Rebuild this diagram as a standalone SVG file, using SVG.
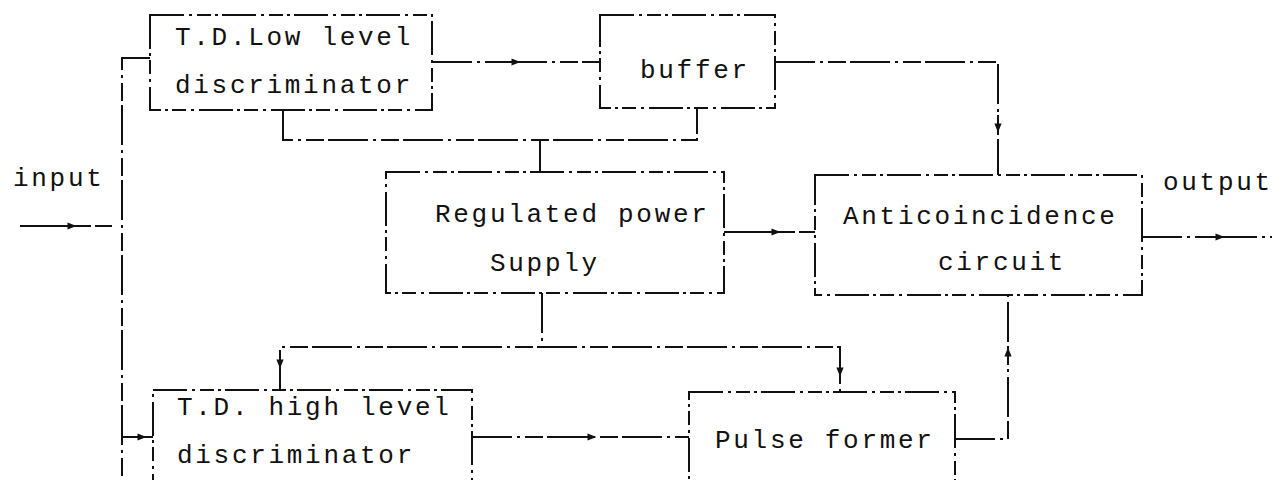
<svg xmlns="http://www.w3.org/2000/svg" width="1283" height="480" viewBox="0 0 1283 480">
<style>
.box{fill:none;stroke:#111;stroke-width:2;stroke-dasharray:34 5 3 5 14 4 3 4}
.ln{fill:none;stroke:#111;stroke-width:2;stroke-dasharray:40 5 3 5 18 4}
.ar{fill:none;stroke:#111;stroke-width:2}
.t{font-family:"Liberation Mono","DejaVu Sans Mono",monospace;font-size:26px;letter-spacing:2.7px;fill:#111}
</style>
<defs>
<marker id="ar" viewBox="0 0 10 10" refX="5" refY="5" markerWidth="11" markerHeight="9" orient="auto" markerUnits="userSpaceOnUse">
<path d="M0,1 L10,5 L0,9 z" fill="#111"/>
</marker>
</defs>
<rect width="1283" height="480" fill="#fff"/>
<g id="connectors">
<polyline class="ln" points="20,226 112,226"/>
<polyline class="ln" points="150,58 122,58 122,480"/>
<polyline class="ln" points="122,437 153,437"/>
<polyline class="ln" points="432,62 600,62"/>
<polyline class="ln" points="775,62 998,62 998,175"/>
<polyline class="ln" points="283,110 283,140 697,140 697,108"/>
<polyline class="ln" points="540,140 540,172"/>
<polyline class="ln" points="724,232 815,232"/>
<polyline class="ln" points="1142,237 1272,237"/>
<polyline class="ln" points="542,293 542,347"/>
<polyline class="ln" points="280,390 280,347 840,347 840,392"/>
<polyline class="ln" points="472,437 689,437"/>
<polyline class="ln" points="955,439 1008,439 1008,295"/>
<path class="ar" d="M60,226 L72,226" marker-end="url(#ar)"/>
<path class="ar" d="M128,437 L142,437" marker-end="url(#ar)"/>
<path class="ar" d="M500,62 L516,62" marker-end="url(#ar)"/>
<path class="ar" d="M998,115 L998,128" marker-end="url(#ar)"/>
<path class="ar" d="M760,232 L776,232" marker-end="url(#ar)"/>
<path class="ar" d="M1205,237 L1220,237" marker-end="url(#ar)"/>
<path class="ar" d="M280,352 L280,364" marker-end="url(#ar)"/>
<path class="ar" d="M840,360 L840,372" marker-end="url(#ar)"/>
<path class="ar" d="M575,437 L592,437" marker-end="url(#ar)"/>
<path class="ar" d="M1008,365 L1008,352" marker-end="url(#ar)"/>
<text class="t" x="13" y="186">input</text>
<text class="t" x="1163" y="190">output</text>
</g>
<g id="low-disc">
<rect class="box" x="150" y="15" width="282" height="95"/>
<text class="t" x="175" y="45">T.D.Low level</text>
<text class="t" x="175" y="93">discriminator</text>
</g>
<g id="buffer">
<rect class="box" x="600" y="15" width="175" height="93"/>
<text class="t" x="640" y="78">buffer</text>
</g>
<g id="power">
<rect class="box" x="386" y="172" width="338" height="121"/>
<text class="t" x="435" y="222">Regulated power</text>
<text class="t" x="490" y="271">Supply</text>
</g>
<g id="anticoinc">
<rect class="box" x="815" y="175" width="327" height="120"/>
<text class="t" x="843" y="224">Anticoincidence</text>
<text class="t" x="938" y="270">circuit</text>
</g>
<g id="high-disc">
<rect class="box" x="153" y="390" width="319" height="100"/>
<text class="t" x="177" y="415">T.D. high level</text>
<text class="t" x="177" y="463">discriminator</text>
</g>
<g id="pulse">
<rect class="box" x="689" y="392" width="266" height="98"/>
<text class="t" x="715" y="448">Pulse former</text>
</g>
</svg>
